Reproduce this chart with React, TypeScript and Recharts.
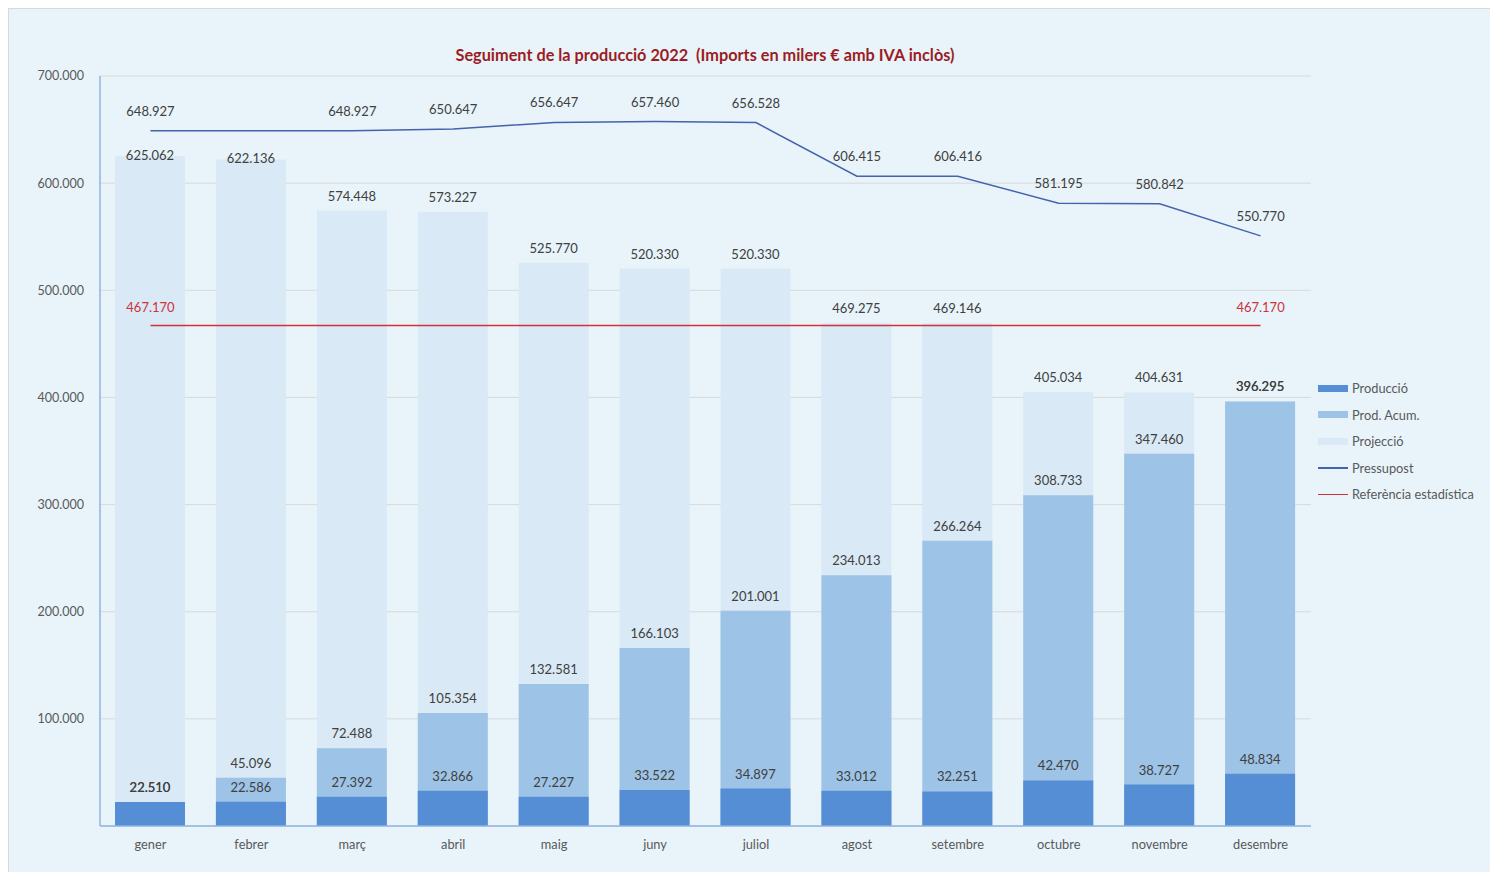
import React from "react";
import {
  ComposedChart,
  Bar,
  Line,
  XAxis,
  YAxis,
  CartesianGrid,
  Legend,
  LabelList,
} from "recharts";

const months = ["gener", "febrer", "març", "abril", "maig", "juny", "juliol", "agost", "setembre", "octubre", "novembre", "desembre"];
const produccio = [22510, 22586, 27392, 32866, 27227, 33522, 34897, 33012, 32251, 42470, 38727, 48834];
const prodAcum = [22510, 45096, 72488, 105354, 132581, 166103, 201001, 234013, 266264, 308733, 347460, 396295];
const projeccio = [625062, 622136, 574448, 573227, 525770, 520330, 520330, 469275, 469146, 405034, 404631, 396295];
const pressupost = [648927, 648927, 648927, 650647, 656647, 657460, 656528, 606415, 606416, 581195, 580842, 550770];
const referencia = [467170, 467170, 467170, 467170, 467170, 467170, 467170, 467170, 467170, 467170, 467170, 467170];
const yTicks = [0, 100000, 200000, 300000, 400000, 500000, 600000, 700000];

const data = months.map((m, i) => ({
  month: m,
  produccio: produccio[i],
  prodAcum: prodAcum[i],
  projeccio: projeccio[i],
  pressupost: pressupost[i],
  referencia: referencia[i],
}));

const FONT = "Lato, 'Open Sans', sans-serif";
const C_PROD = "#558ed5";
const C_ACUM = "#9dc3e6";
const C_PROJ = "#d9e9f5";
const C_PRES = "#4462ad";
const C_REF = "#d0313a";
const BG = "#e8f4f9";

const fmt = (v: number) => {
  if (!v) return "";
  return String(Math.round(v)).replace(/\B(?=(\d{3})+(?!\d))/g, ".");
};

const makeLabel = (dy: number, color: string, skip?: (i: number) => boolean, special?: (i: number) => number | null) =>
  (props: any) => {
    const { x, y, width, value, index } = props;
    if (skip && skip(index)) return null;
    let off = dy;
    if (special) {
      const s = special(index);
      if (s !== null) off = s;
    }
    const cx = width !== undefined ? x + width / 2 : x;
    return (
      <text
        x={cx}
        y={y - off}
        textAnchor="middle"
        dominantBaseline="central"
        fill={color}
        fontSize={13}
        fontFamily={FONT}
      >
        {fmt(value)}
      </text>
    );
  };

const legendItems = [
  { name: "Producció", color: C_PROD, kind: "bar" },
  { name: "Prod. Acum.", color: C_ACUM, kind: "bar" },
  { name: "Projecció", color: C_PROJ, kind: "bar" },
  { name: "Pressupost", color: C_PRES, kind: "line" },
  { name: "Referència estadística", color: C_REF, kind: "line" },
];

const LegendContent = () => (
  <div style={{ fontFamily: FONT, fontSize: 12.8, color: "#595959" }}>
    {legendItems.map((it) => (
      <div key={it.name} style={{ display: "flex", alignItems: "center", height: 26.5, whiteSpace: "nowrap" }}>
        <div
          style={{
            width: 30,
            height: it.kind === "bar" ? 7 : 1.5,
            background: it.color,
            marginRight: 4,
          }}
        />
        <span>{it.name}</span>
      </div>
    ))}
  </div>
);

export default function App() {
  return (
    <div
      style={{
        position: "fixed",
        left: 8,
        top: 8,
        width: 1482,
        height: 864,
        boxSizing: "border-box",
        borderTop: "1px solid #d9d9d9",
        borderLeft: "1px solid #d9d9d9",
        background: BG,
      }}
    >
      <div
        style={{
          position: "absolute",
          left: 0,
          top: 36,
          width: 1392,
          textAlign: "center",
          fontFamily: FONT,
          fontWeight: 700,
          fontSize: 16.3,
          lineHeight: "20px",
          color: "#9c1c24",
          whiteSpace: "pre",
        }}
      >
        {"Seguiment de la producció 2022  (Imports en milers € amb IVA inclòs)"}
      </div>
      <ComposedChart
        width={1480}
        height={862}
        data={data}
        margin={{ top: 67, right: 178, bottom: 15, left: 0 }}
        barSize={70}
        barGap={-70}
      >
        <CartesianGrid vertical={false} stroke="#d9d9d9" strokeWidth={1} />
        <XAxis
          dataKey="month"
          height={30}
          tickLine={false}
          tickSize={0}
          tickMargin={14}
          axisLine={{ stroke: "#8eb4e3", strokeWidth: 1.5 }}
          tick={{ fill: "#595959", fontSize: 12.8, fontFamily: FONT }}
          interval={0}
        />
        <YAxis
          width={91}
          domain={[0, 700000]}
          ticks={yTicks}
          interval={0}
          tickFormatter={fmt}
          tickLine={false}
          tickSize={0}
          tickMargin={16}
          axisLine={{ stroke: "#8eb4e3", strokeWidth: 1.5 }}
          tick={{ fill: "#595959", fontSize: 12.5, fontFamily: FONT }}
        />
        <Legend
          layout="vertical"
          align="center"
          verticalAlign="middle"
          content={<LegendContent />}
          wrapperStyle={{ left: 1309, top: 366, width: 170, height: 140 }}
        />
        <Bar dataKey="projeccio" name="Projecció" fill={C_PROJ} isAnimationActive={false}>
          <LabelList
            dataKey="projeccio"
            content={makeLabel(15, "#404040", undefined, (i) => (i < 2 ? 1.5 : null))}
          />
        </Bar>
        <Bar dataKey="prodAcum" name="Prod. Acum." fill={C_ACUM} isAnimationActive={false}>
          <LabelList dataKey="prodAcum" content={makeLabel(15, "#404040")} />
        </Bar>
        <Bar dataKey="produccio" name="Producció" fill={C_PROD} isAnimationActive={false}>
          <LabelList dataKey="produccio" content={makeLabel(15, "#404040")} />
        </Bar>
        <Line
          type="linear"
          dataKey="pressupost"
          name="Pressupost"
          stroke={C_PRES}
          strokeWidth={1.5}
          dot={false}
          activeDot={false}
          isAnimationActive={false}
        >
          <LabelList dataKey="pressupost" content={makeLabel(20, "#404040", (i) => i === 1)} />
        </Line>
        <Line
          type="linear"
          dataKey="referencia"
          name="Referència estadística"
          stroke={C_REF}
          strokeWidth={1.5}
          dot={false}
          activeDot={false}
          isAnimationActive={false}
        >
          <LabelList dataKey="referencia" content={makeLabel(18, C_REF, (i) => i !== 0 && i !== 11)} />
        </Line>
      </ComposedChart>
    </div>
  );
}
